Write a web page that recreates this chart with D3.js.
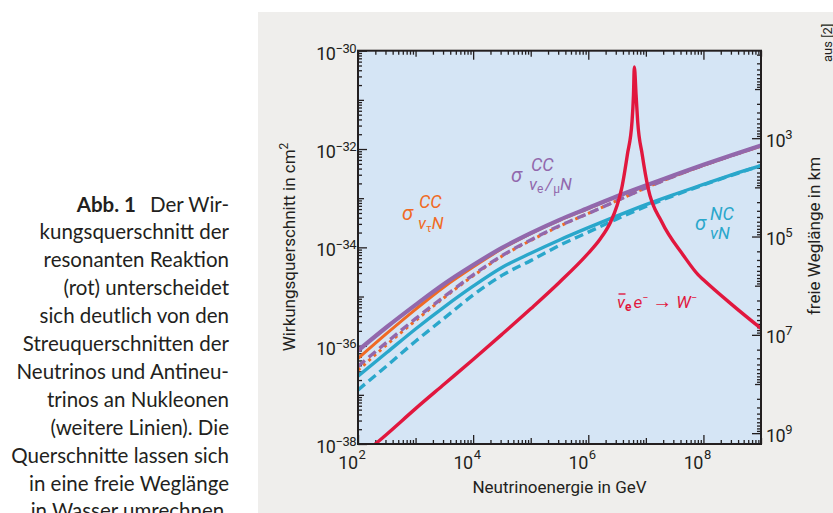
<!DOCTYPE html>
<html>
<head>
<meta charset="utf-8">
<script src="https://cdn.jsdelivr.net/npm/d3@7"></script>
<style>
  body { margin: 0; background: #fff; }
  svg { display: block; }
  .chart text { font-family: "Liberation Sans Narrow", "Roboto", sans-serif; fill: #231f20; }
  .caption text { font-family: Lato, "Open Sans", sans-serif; fill: #231f20; }
</style>
</head>
<body>
<svg id="fig" width="833" height="513"></svg>
<script>
'use strict';

const logEnergy = [2, 2.5, 3, 3.5, 4, 4.5, 5, 5.5, 6, 6.5, 7, 7.5, 8, 8.5, 9];

// log10(sigma / cm^2), one list per curve
const ccNu     = [-36.10, -35.62, -35.17, -34.74, -34.36, -34.01, -33.71, -33.44, -33.20, -32.96, -32.74, -32.53, -32.32, -32.12, -31.93];
const ccTau    = [-36.26, -35.75, -35.26, -34.80, -34.40, -34.03, -33.72, -33.45, -33.21, -32.97, -32.75, -32.54, -32.33, -32.13, -31.94];
const ccNuBar  = [-36.42, -35.93, -35.45, -35.00, -34.56, -34.17, -33.85, -33.56, -33.31, -33.05, -32.79, -32.55, -32.33, -32.13, -31.93];
const ccTauBar = [-36.50, -35.98, -35.49, -35.02, -34.58, -34.18, -33.86, -33.57, -33.31, -33.05, -32.79, -32.55, -32.33, -32.13, -31.93];
const ncNu     = [-36.62, -36.14, -35.66, -35.21, -34.79, -34.41, -34.12, -33.85, -33.60, -33.36, -33.13, -32.92, -32.72, -32.52, -32.34];
const ncNuBar  = [-36.90, -36.41, -35.91, -35.44, -34.97, -34.57, -34.27, -33.96, -33.69, -33.42, -33.17, -32.94, -32.73, -32.53, -32.34];

// resonance curve (anti-nu_e e -> W), its own energy grid
const resLogEnergy = [2.2, 2.5, 3, 3.5, 4, 4.5, 5, 5.5, 6, 6.2, 6.39, 6.5, 6.58, 6.678, 6.76, 6.785, 6.80, 6.83, 6.858, 6.938, 7.04, 7.275, 7.65, 7.91, 8, 8.5, 9];
const resSigma     = [-38.1, -37.8, -37.28, -36.78, -36.28, -35.77, -35.25, -34.71, -34.12, -33.84, -33.48, -33.15, -32.80, -32.12, -31.44, -30.9, -30.33, -30.9, -31.44, -32.12, -32.80, -33.48, -34.16, -34.56, -34.66, -35.17, -35.65];

// labelled decades
const sigmaLabels  = [-38, -36, -34, -32, -30];
const energyLabels = [2, 4, 6, 8];
const pathLabels   = [3, 5, 7, 9];

const nucleonDensity = 6.022e23; // nucleons per cm^3 of water

const captionLines = [
    'kungsquerschnitt der',
    'resonanten Reaktion',
    '(rot) unterscheidet',
    'sich deutlich von den',
    'Streuquerschnitten der',
    'Neutrinos und Antineu-',
    'trinos an Nukleonen',
    '(weitere Linien). Die',
    'Querschnitte lassen sich',
    'in eine freie Weglänge',
    'in Wasser umrechnen.'
];

(function() {
    const ink = '#231f20';
    const purple = '#9268ac';
    const orange = '#f06a24';
    const cyan = '#2aa7cb';
    const red = '#e1173e';

    const left = 358, right = 761, top = 50.7, bottom = 444;

    const svg = d3.select('#fig');

    // caption on the white side
    const cap = svg.append('g').attr('class', 'caption');
    const first = cap.append('text').attr('x', 229).attr('y', 211.5)
        .attr('text-anchor', 'end').attr('font-size', 20.5);
    first.append('tspan').attr('font-weight', 'bold').text('Abb. 1');
    first.append('tspan').attr('dx', 14).text('Der Wir-');
    captionLines.forEach(function(line, i) {
        cap.append('text')
            .attr('x', 229)
            .attr('y', 211.5 + (i + 1) * 27.9)
            .attr('text-anchor', 'end')
            .attr('font-size', 20.5)
            .text(line);
    });

    const g = svg.append('g').attr('class', 'chart');

    // grey panel and plot background
    g.append('rect').attr('x', 258).attr('y', 12).attr('width', 575).attr('height', 501).attr('fill', '#efeeec');
    g.append('rect').attr('x', left).attr('y', top).attr('width', right - left).attr('height', bottom - top).attr('fill', '#d5e5f5');

    // scales
    const x = d3.scaleLog().domain([1e2, 1e9]).range([left, right]);
    const y = d3.scaleLog().domain([1e-38, 1e-30]).range([bottom, top]);
    const toPath = function(s) { return 1 / (nucleonDensity * s) / 1e5; }; // km
    const yPath = d3.scaleLog().domain([toPath(1e-30), toPath(1e-38)]).range([top, bottom]);

    const isDecade = function(v) {
        const l = Math.log10(v);
        return Math.abs(l - Math.round(l)) < 1e-6;
    };

    // ticks: labelled decades long, other decades medium, minors short
    function tickSets(scale, labels) {
        const all = scale.ticks();
        const major = all.filter(function(v) { return isDecade(v) && labels.indexOf(Math.round(Math.log10(v))) >= 0; });
        const decade = all.filter(function(v) { return isDecade(v) && labels.indexOf(Math.round(Math.log10(v))) < 0; });
        const minor = all.filter(function(v) { return !isDecade(v); });
        return [[major, 9], [decade, 6], [minor, 4]];
    }

    function drawTicks(makeAxis, scale, labels, tx, ty) {
        tickSets(scale, labels).forEach(function(set) {
            const a = g.append('g')
                .attr('transform', 'translate(' + tx + ',' + ty + ')')
                .call(makeAxis(scale).tickValues(set[0]).tickSize(-set[1]).tickFormat(''));
            a.select('.domain').remove();
            a.selectAll('.tick line').attr('stroke', ink).attr('stroke-width', 1.3);
        });
    }

    drawTicks(d3.axisBottom, x, energyLabels, 0, bottom);
    drawTicks(d3.axisTop, x, energyLabels, 0, top);
    drawTicks(d3.axisLeft, y, sigmaLabels, left, 0);
    drawTicks(d3.axisRight, yPath, pathLabels, right, 0);

    // curves
    g.append('clipPath').attr('id', 'plotClip')
        .append('rect').attr('x', left).attr('y', top).attr('width', right - left).attr('height', bottom - top);

    const line = d3.line()
        .x(function(d) { return x(Math.pow(10, d[0])); })
        .y(function(d) { return y(Math.pow(10, d[1])); })
        .curve(d3.curveMonotoneX);

    const series = [
        { vals: ncNuBar, color: cyan, dash: '9,5', w: 3.4 },
        { vals: ncNu, color: cyan, dash: null, w: 3.4 },
        { vals: ccTauBar, color: orange, dash: '3,4', w: 3 },
        { vals: ccNuBar, color: purple, dash: '9,5', w: 3.4 },
        { vals: ccTau, color: orange, dash: null, w: 3 },
        { vals: ccNu, color: purple, dash: null, w: 4.2 }
    ];

    const curves = g.append('g').attr('clip-path', 'url(#plotClip)');
    series.forEach(function(s) {
        curves.append('path')
            .datum(logEnergy.map(function(e, i) { return [e, s.vals[i]]; }))
            .attr('fill', 'none')
            .attr('stroke', s.color)
            .attr('stroke-width', s.w)
            .attr('stroke-dasharray', s.dash)
            .attr('d', line);
    });

    curves.append('path')
        .datum(resLogEnergy.map(function(e, i) { return [e, resSigma[i]]; }))
        .attr('fill', 'none')
        .attr('stroke', red)
        .attr('stroke-width', 3.4)
        .attr('stroke-linecap', 'round')
        .attr('stroke-linejoin', 'round')
        .attr('d', line);

    // frame
    g.append('rect').attr('x', left).attr('y', top).attr('width', right - left).attr('height', bottom - top)
        .attr('fill', 'none').attr('stroke', ink).attr('stroke-width', 2);

    // tick labels
    sigmaLabels.forEach(function(e) {
        const t = g.append('text').attr('x', 356).attr('y', y(Math.pow(10, e)) + 9)
            .attr('text-anchor', 'end').attr('font-size', 18).attr('letter-spacing', -0.5);
        t.append('tspan').text('10');
        t.append('tspan').attr('font-size', 13).attr('dy', -7).text('\u2212' + Math.abs(e));
    });
    energyLabels.forEach(function(e) {
        const px = x(Math.pow(10, e)) - 0.5;
        g.append('text').attr('x', px).attr('y', 469).attr('text-anchor', 'end').attr('font-size', 18)
            .attr('letter-spacing', -0.5).text('10');
        g.append('text').attr('x', px + 1).attr('y', 459).attr('font-size', 13).text(e);
    });
    pathLabels.forEach(function(e) {
        const t = g.append('text').attr('x', 766).attr('y', yPath(Math.pow(10, e)) + 8.5)
            .attr('font-size', 18).attr('letter-spacing', -0.5);
        t.append('tspan').text('10');
        t.append('tspan').attr('font-size', 13).attr('dy', -8).text(e);
    });

    // axis titles
    const yt = g.append('text').attr('transform', 'translate(295,247) rotate(-90)')
        .attr('text-anchor', 'middle').attr('font-size', 17);
    yt.append('tspan').text('Wirkungsquerschnitt in cm');
    yt.append('tspan').attr('font-size', 12).attr('dy', -7).text('2');

    g.append('text').attr('x', (left + right) / 2).attr('y', 493)
        .attr('text-anchor', 'middle').attr('font-size', 17).text('Neutrinoenergie in GeV');

    g.append('text').attr('transform', 'translate(820,236) rotate(-90)')
        .attr('text-anchor', 'middle').attr('font-size', 17).text('freie Weglänge in km');

    g.append('text').attr('transform', 'translate(832,62) rotate(-90)')
        .attr('font-size', 13).attr('fill', '#555').text('aus [2]');

    // curve labels
    function label(x0, y0, color, parts) {
        const t = g.append('text').attr('x', x0).attr('y', y0)
            .attr('font-size', 17).style('font-style', 'italic').style('fill', color);
        parts.forEach(function(p) {
            const s = t.append('tspan').text(p.t);
            if (p.size) s.attr('font-size', p.size);
            if (p.dy) s.attr('dy', p.dy);
            if (p.dx) s.attr('dx', p.dx);
            if (p.up) s.style('font-style', 'normal');
            if (p.bold) s.attr('font-weight', 'bold');
        });
        return t;
    }

    label(402, 220, orange, [{ t: '\u03c3', size: 20 }]);
    label(419, 208, orange, [{ t: 'CC', size: 18 }]);
    label(418, 229, orange, [{ t: '\u03bd' }, { t: '\u03c4', size: 11, dy: 3, up: true }, { t: 'N', dy: -3 }]);

    label(511, 182, purple, [{ t: '\u03c3', size: 20 }]);
    label(531, 171, purple, [{ t: 'CC', size: 18 }]);
    label(529, 190, purple, [{ t: '\u03bd' }, { t: 'e', size: 12, dy: 3, up: true }, { t: '/', dy: -3, dx: 2 },
        { t: '\u03bc', size: 12, dy: 3, up: true, dx: 1 }, { t: 'N', dy: -3 }]);

    label(695, 230, cyan, [{ t: '\u03c3', size: 20 }]);
    label(710, 220, cyan, [{ t: 'NC', size: 18 }]);
    label(710, 239, cyan, [{ t: '\u03bdN' }]);

    const rl = label(617, 308, red, [{ t: '\u03bd' }, { t: 'e', size: 12, dy: 3, up: true, bold: true },
        { t: 'e', dy: -3, dx: 2 }, { t: '\u2212', size: 11, dy: -7 }, { t: '\u2192', size: 20, dy: 7, dx: 4, up: true },
        { t: 'W', dx: 4 }, { t: '\u2212', size: 11, dy: -7 }]);
    const node = rl.node();
    const x1 = node.getStartPositionOfChar(0).x, x2 = node.getEndPositionOfChar(0).x;
    g.append('line').attr('x1', x1 + 1.5).attr('x2', x2 + 0.5).attr('y1', 294).attr('y2', 294)
        .attr('stroke', red).attr('stroke-width', 1.4);
})();
</script>
</body>
</html>
